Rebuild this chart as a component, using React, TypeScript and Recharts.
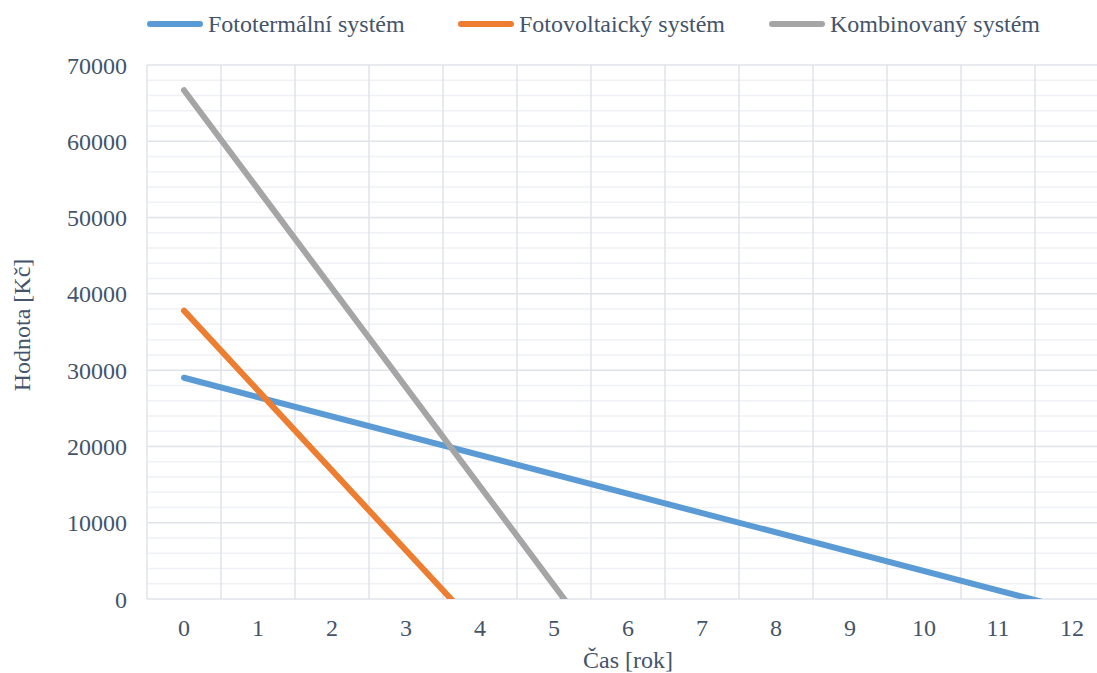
import { LineChart, Line, XAxis, YAxis, CartesianGrid, Label } from "recharts";

// years shown on the category axis
const years = [0, 1, 2, 3, 4, 5, 6, 7, 8, 9, 10, 11, 12];
// band edges between years (vertical gridlines + tick marks)
const bandEdges = [-0.5, 0.5, 1.5, 2.5, 3.5, 4.5, 5.5, 6.5, 7.5, 8.5, 9.5, 10.5, 11.5, 12.5];
const majorTicks = [0, 10000, 20000, 30000, 40000, 50000, 60000, 70000];
const minorTicks = [
  2000, 4000, 6000, 8000, 12000, 14000, 16000, 18000, 22000, 24000, 26000, 28000,
  32000, 34000, 36000, 38000, 42000, 44000, 46000, 48000, 52000, 54000, 56000, 58000,
  62000, 64000, 66000, 68000,
];

// values (lines run below 0 and are clipped by the axis)
const fototermalni = [
  { x: 0, y: 29000 },
  { x: 12, y: -1400 },
];
const fotovoltaicky = [
  { x: 0, y: 37800 },
  { x: 4, y: -4100 },
];
const kombinovany = [
  { x: 0, y: 66700 },
  { x: 6, y: -11200 },
];

const series = [
  { name: "Fototermální systém", color: "#5b9bd5", data: fototermalni },
  { name: "Fotovoltaický systém", color: "#ed7d31", data: fotovoltaicky },
  { name: "Kombinovaný systém", color: "#a5a5a5", data: kombinovany },
];

const textColor = "#44546a";
const textStyle = { fontFamily: '"Liberation Serif"', fontSize: 24, fill: textColor, color: textColor };

const XTick = ({ x, y, payload }: any) => (
  <text x={x} y={y} dy="0.71em" textAnchor="middle" style={textStyle}>
    {payload.value}
  </text>
);

const YTick = ({ x, y, payload }: any) => (
  <text x={x} y={y} dy="0.355em" textAnchor="end" style={textStyle}>
    {payload.value}
  </text>
);

const YTitle = (props: any) => {
  const { x, y, height } = props.viewBox;
  const cx = x + 21;
  const cy = y + height / 2 - 7;
  return (
    <text
      x={cx}
      y={cy}
      dy="0.355em"
      transform={`rotate(-90 ${cx} ${cy})`}
      textAnchor="middle"
      style={textStyle}
    >
      Hodnota [Kč]
    </text>
  );
};

const XTitle = (props: any) => {
  const { x, y, width, height } = props.viewBox;
  return (
    <text x={x + width / 2} y={y + height - 5} textAnchor="middle" style={textStyle}>
      Čas [rok]
    </text>
  );
};

const App = () => {
  return (
    <div
      style={{
        position: "absolute",
        left: 0,
        top: 0,
        width: 1097,
        height: 673,
        overflow: "hidden",
        background: "#fff",
      }}
    >
      {/* legend */}
      <div style={{ position: "absolute", left: 147, top: 8, display: "flex", height: 32 }}>
        {series.map((s) => (
          <div key={s.name} style={{ width: 311, display: "flex", alignItems: "center" }}>
            <div style={{ width: 56, height: 6, borderRadius: 3, background: s.color }} />
            <div style={{ ...textStyle, marginLeft: 5, lineHeight: "32px" }}>{s.name}</div>
          </div>
        ))}
      </div>

      <LineChart width={1120} height={673} margin={{ top: 65, right: 11, bottom: 0, left: 0 }}>
        <CartesianGrid
          xAxisId="years"
          vertical={false}
          horizontalValues={minorTicks}
          stroke="#eff1f5"
          strokeWidth={1.5}
        />
        <CartesianGrid
          xAxisId="years"
          horizontalValues={majorTicks}
          verticalValues={bandEdges}
          stroke="#dfe3ea"
          strokeWidth={1.5}
        />
        <XAxis
          xAxisId="edges"
          type="number"
          dataKey="x"
          domain={[-0.5, 12.5]}
          ticks={bandEdges}
          tick={false}
          tickSize={6}
          height={0}
          stroke="#dfe3ea"
          strokeWidth={1.5}
          allowDataOverflow
        />
        <XAxis
          xAxisId="years"
          type="number"
          dataKey="x"
          domain={[-0.5, 12.5]}
          ticks={years}
          interval={0}
          axisLine={false}
          tickLine={false}
          tickSize={0}
          tickMargin={20}
          height={74}
          tick={<XTick />}
          allowDataOverflow
        >
          <Label content={XTitle} />
        </XAxis>
        <YAxis
          type="number"
          domain={[0, 70000]}
          ticks={majorTicks}
          interval={0}
          allowDataOverflow
          axisLine={false}
          tickLine={false}
          tickSize={0}
          tickMargin={20}
          width={147}
          tick={<YTick />}
        >
          <Label content={YTitle} />
        </YAxis>
        {series.map((s) => (
          <Line
            key={s.name}
            xAxisId="years"
            data={s.data}
            dataKey="y"
            name={s.name}
            type="linear"
            stroke={s.color}
            strokeWidth={6}
            strokeLinecap="round"
            dot={false}
            activeDot={false}
            isAnimationActive={false}
          />
        ))}
      </LineChart>
    </div>
  );
};

export default App;
